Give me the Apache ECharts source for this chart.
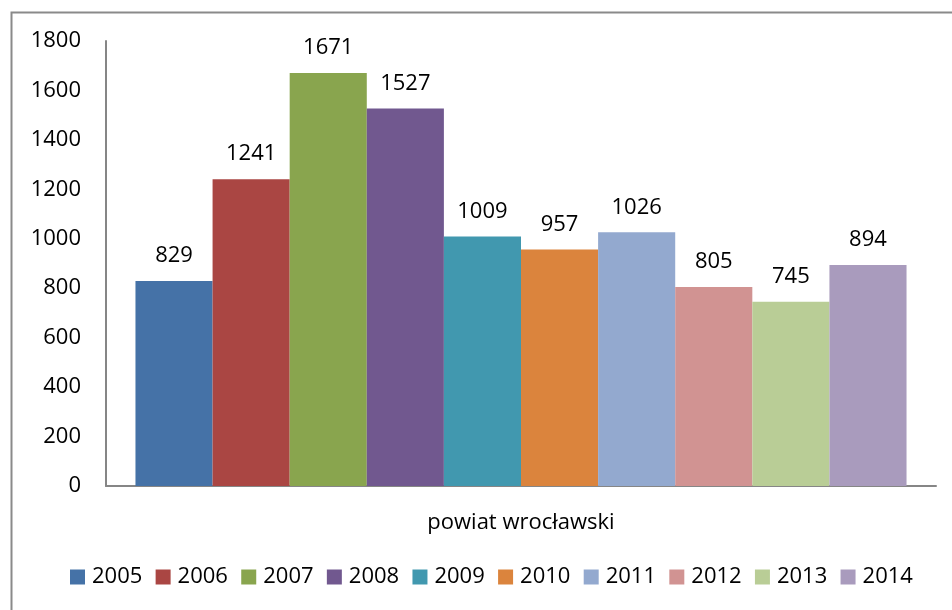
<!DOCTYPE html>
<html><head><meta charset="utf-8">
<script src="https://cdn.jsdelivr.net/npm/echarts@6/dist/echarts.min.js"></script>
<style>html,body{margin:0;padding:0;background:#fff}#c{width:952px;height:610px}</style>
</head><body><div id="c"></div>
<script>
const categories = ['powiat wrocławski'];
const years = ['2005','2006','2007','2008','2009','2010','2011','2012','2013','2014'];
const values = [829, 1241, 1671, 1527, 1009, 957, 1026, 805, 745, 894];
const colors = ['#4572A7','#AA4643','#89A54E','#71588F','#4198AF','#DB843D','#93A9CF','#D19392','#B9CD96','#A99BBD'];
const yTicks = [0,200,400,600,800,1000,1200,1400,1600,1800];

const FONT = 'Open Sans';
const chart = echarts.init(document.getElementById('c'));
chart.setOption({
  animation: false,
  textStyle: {fontFamily: FONT},
  graphic: [{type:'rect', shape:{x:11.5,y:12.5,width:1000,height:700}, style:{fill:'none', stroke:'#8a8a8a', lineWidth:2}, silent:true, z:-1}],
  grid: {left:106, right:16, top:41, bottom:124, containLabel:false},
  legend: {
    data: years, bottom: 17, left: 65, itemWidth: 15, itemHeight: 15, itemGap: 13.3,
    icon: 'rect',
    textStyle: {fontSize: 22, color:'#000', fontFamily: FONT, padding:[0,0,0,2]}
  },
  xAxis: {
    type:'category', data: categories,
    axisLine:{lineStyle:{color:'#868686', width:2}},
    axisTick:{show:false},
    axisLabel:{fontSize:22, color:'#000', margin:26, fontFamily: FONT}
  },
  yAxis: {
    type:'value', min:yTicks[0], max:yTicks[yTicks.length-1], interval:yTicks[1]-yTicks[0],
    axisLine:{show:true, lineStyle:{color:'#868686', width:2}},
    axisTick:{show:false},
    splitLine:{show:false},
    axisLabel:{fontSize:22, color:'#000', margin:25, fontFamily: FONT, formatter: v => String(v)}
  },
  series: years.map((y,i)=>({
    name:y, type:'bar', data:[values[i]],
    itemStyle:{color:colors[i]},
    barGap:'0%', barCategoryGap:'7.1%',
    label:{show:true, position:'top', distance:14, fontSize:22, color:'#000', fontFamily: FONT}
  }))
});
</script></body></html>
